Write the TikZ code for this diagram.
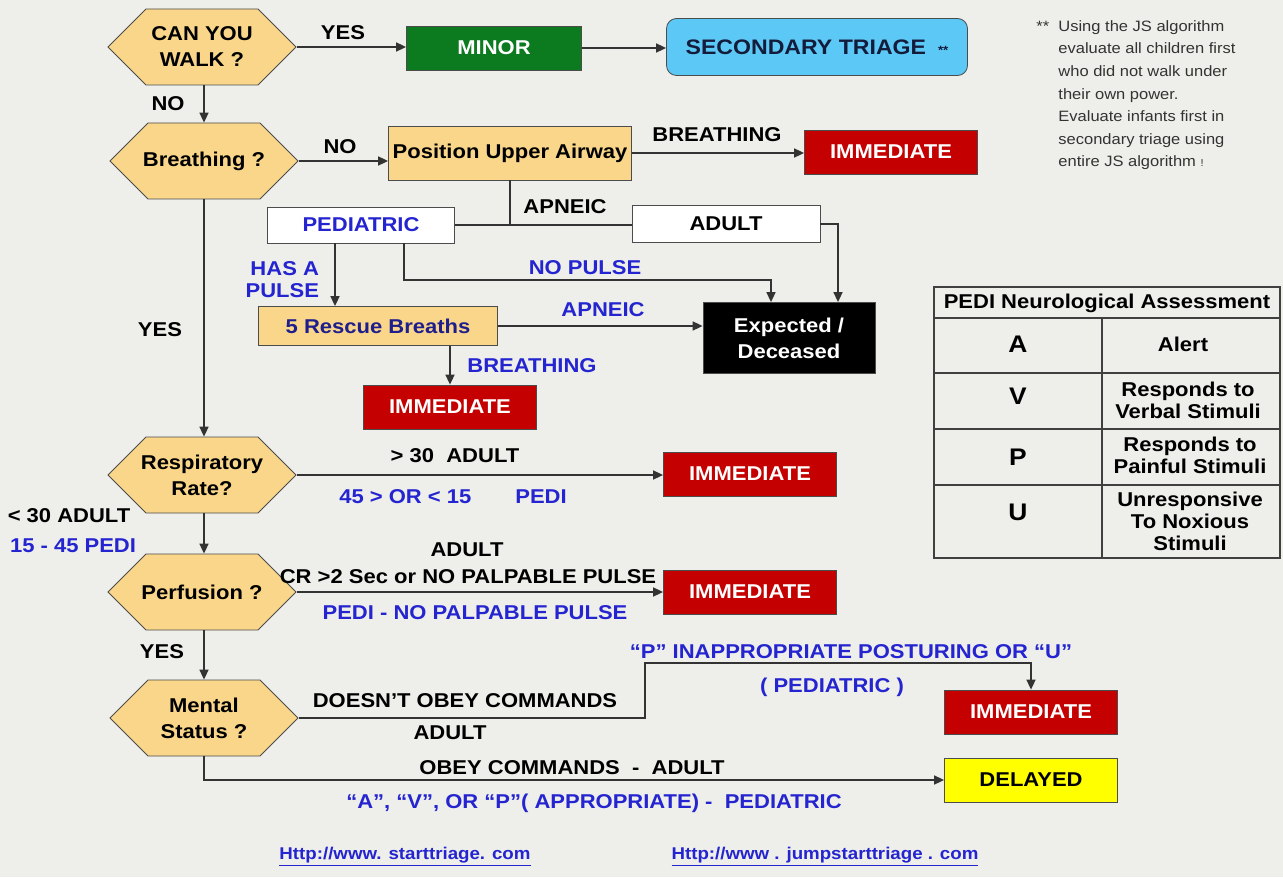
\documentclass[tikz,border=0pt]{standalone}
\usepackage{fontspec}
\setmainfont{Liberation Sans}[FakeStretch=1.1]
\usetikzlibrary{arrows.meta,shapes.symbols}
\definecolor{Hex}{RGB}{250,214,138}
\definecolor{Grn}{RGB}{12,122,30}
\definecolor{Sky}{RGB}{92,200,245}
\definecolor{Red}{RGB}{196,0,0}
\definecolor{Yel}{RGB}{255,255,0}
\definecolor{Blu}{RGB}{36,36,208}
\definecolor{Nav}{RGB}{30,30,140}
\definecolor{Ink}{RGB}{20,28,60}
\definecolor{Bg}{RGB}{238,238,234}
\begin{document}
\begin{tikzpicture}[x=0.5pt,y=-0.5pt,
    every node/.style={font=\bfseries\fontsize{10}{11}\selectfont},
    hexq/.style={shape=signal, signal to=west and east, signal pointer angle=90,
      draw=black!70, fill=Hex, minimum width=94pt, minimum height=38pt,
      inner xsep=-7pt, inner ysep=0pt, align=center, font=\bfseries\fontsize{10}{13}\selectfont},
    tbox/.style 2 args={draw=black!70, minimum width=#1, minimum height=#2,
      inner sep=0pt, align=center},
    imm/.style={tbox={86.5pt}{22pt}, fill=Red, text=white},
    arr/.style={draw=black!80, line width=0.8pt, -{Triangle[length=5pt,width=4.5pt]}},
    wire/.style={draw=black!80, line width=0.8pt},
    pedi/.style={text=Blu},
    link/.style={text=Blu, font=\bfseries\fontsize{8.5}{10}\selectfont},
    note/.style={text=black!80, align=left, inner sep=0pt, font=\fontsize{7.5}{11.3}\selectfont},
    tabl/.style={draw=black!75, line width=0.7pt}]
  \fill[Bg] (0,0) rectangle (1283,877);
  % questions
  \node[hexq] (walk) at (202,47) {CAN YOU\\WALK ?};
  \node[hexq] (breath) at (204,161) {Breathing ?};
  \node[hexq] (resp) at (202,475) {Respiratory\\Rate?};
  \node[hexq] (perf) at (202,592) {Perfusion ?};
  \node[hexq] (mental) at (204,718) {Mental\\Status ?};
  % outcomes
  \node[tbox={87.5pt}{22pt}, fill=Grn, text=white] (minor) at (494,48) {MINOR};
  \node[tbox={150.5pt}{28.5pt}, fill=Sky, rounded corners=5pt, text=Ink] (sec) at (817,47)
    {\fontsize{10.5}{12}\selectfont SECONDARY TRIAGE\hspace{6pt}{\fontsize{6}{6}\selectfont **}};
  \node[tbox={121.5pt}{27pt}, fill=Hex] (pua) at (510,153) {Position Upper Airway};
  \node[imm] (imm1) at (891,152) {IMMEDIATE};
  \node[tbox={93.5pt}{18pt}, fill=white, pedi] (ped) at (361,225) {PEDIATRIC};
  \node[tbox={94pt}{18.5pt}, fill=white] (adult) at (726,224) {ADULT};
  \node[tbox={119.5pt}{19.5pt}, fill=Hex, text=Nav] (resc) at (378,326) {5 Rescue Breaths};
  \node[tbox={86pt}{35.5pt}, fill=black, text=white, font=\bfseries\fontsize{10}{13}\selectfont]
    (dec) at (789,338) {Expected /\\Deceased};
  \node[imm] (imm2) at (450,407) {IMMEDIATE};
  \node[imm] (imm3) at (750,474) {IMMEDIATE};
  \node[imm] (imm4) at (750,592) {IMMEDIATE};
  \node[imm] (imm5) at (1031,712) {IMMEDIATE};
  \node[tbox={86.5pt}{22pt}, fill=Yel] (delay) at (1031,780) {DELAYED};
  % connectors
  \draw[arr] (walk.east) -- (walk.east -| minor.west);
  \draw[arr] (minor.east) -- (minor.east -| sec.west);
  \draw[arr] (walk.south -| breath.north) -- (breath.north);
  \draw[arr] (breath.east) -- (breath.east -| pua.west);
  \draw[arr] (pua.east) -- (pua.east -| imm1.west);
  \draw[wire] (ped.east) -- (ped.east -| adult.west);
  \draw[wire] (pua.south) -- (pua.south |- ped.east);
  \draw[arr] (adult.east) -| ([xshift=24.5pt]dec.north);
  \coordinate (nopulse) at (404,280);
  \draw[arr] (ped.south -| nopulse) -- (nopulse) -| ([xshift=-9pt]dec.north);
  \draw[arr] ([xshift=-13pt]ped.south) -- ([xshift=-13pt]ped.south |- resc.north);
  \draw[arr] (resc.east) -- (resc.east -| dec.west);
  \draw[arr] (imm2.north |- resc.south) -- (imm2.north);
  \draw[arr] (breath.south) -- (breath.south |- resp.north);
  \draw[arr] (resp.east) -- (resp.east -| imm3.west);
  \draw[arr] (resp.south -| breath.south) -- (breath.south |- perf.north);
  \draw[arr] (perf.east) -- (perf.east -| imm4.west);
  \draw[arr] (perf.south -| mental.north) -- (mental.north);
  \coordinate (bend) at (645,663);
  \draw[arr] (mental.east) -| (bend) -| (imm5.north);
  \draw[arr] (mental.south) |- (delay.west);
  % labels
  \node (yes1) at (343,33) {YES};
  \node (no1) at (168,104) {NO};
  \node (no2) at (340,147) {NO};
  \node (brt1) at (717,135) {BREATHING};
  \node (apn1) at (565,207) {APNEIC};
  \node[pedi] (npl) at (585,268) {NO PULSE};
  \node[pedi, align=right, anchor=east] (hap) at (326,280) {HAS A\\PULSE};
  \node[pedi] (apn2) at (603,310) {APNEIC};
  \node[pedi] (brt2) at (532,366) {BREATHING};
  \node (yes2) at (160,330) {YES};
  \node (gt30) at (455,456) {> 30~~ADULT};
  \node[pedi] (p45) at (453,497) {45 > OR < 15\hspace{2.2em}PEDI};
  \node (lt30) at (69,516) {< 30 ADULT};
  \node[pedi] (p1545) at (73,546) {15 - 45 PEDI};
  \node (adp) at (467,550) {ADULT};
  \node (crp) at (468,577) {CR >2 Sec or NO PALPABLE PULSE};
  \node[pedi] (pnp) at (475,613) {PEDI - NO PALPABLE PULSE};
  \node (yes3) at (162,652) {YES};
  \node[pedi] (ppost) at (851,652) {“P” INAPPROPRIATE POSTURING OR “U”};
  \node[pedi] (pped) at (832,687) {(~PEDIATRIC~)};
  \node (dobey) at (465,701) {DOESN’T OBEY COMMANDS};
  \node (adm) at (450,733) {ADULT};
  \node (obey) at (572,768) {OBEY COMMANDS~~-~~ADULT};
  \node[pedi] (avp) at (594,803) {“A”, “V”, OR “P”( APPROPRIATE) -~~PEDIATRIC};
  % links
  \node[link] (url1) at (405,857) {\underline{Http://www. starttriage. com}};
  \node[link] (url2) at (825,857) {\underline{Http://www . jumpstarttriage . com}};
  % note
  \node[note, anchor=north west] (jsnote) at (1058,20)
    {\llap{**~~}Using the JS algorithm\\evaluate all children first\\who did not walk under\\their own power.\\Evaluate infants first in\\secondary triage using\\entire JS algorithm~{\fontsize{5}{5}\selectfont !}};
  % PEDI table
  \draw[tabl] (934,287) rectangle (1280,558);
  \foreach \y in {318,373,429,485}
    \draw[tabl] (934,\y) -- (1280,\y);
  \draw[tabl] (1102,318) -- (1102,558);
  \node (thead) at (1107,303) {PEDI Neurological Assessment};
  \foreach \l/\y in {A/344,V/396,P/457,U/512}
    \node[font=\bfseries\fontsize{12}{14}\selectfont] (lt\l) at (1018,\y) {\l};
  \node (ta) at (1183,344) {Alert};
  \node[align=center] (tv) at (1188,400) {Responds to\\Verbal Stimuli};
  \node[align=center] (tp) at (1190,455) {Responds to\\Painful Stimuli};
  \node[align=center] (tu) at (1190,521) {Unresponsive\\To Noxious\\Stimuli};
\end{tikzpicture}
\end{document}
